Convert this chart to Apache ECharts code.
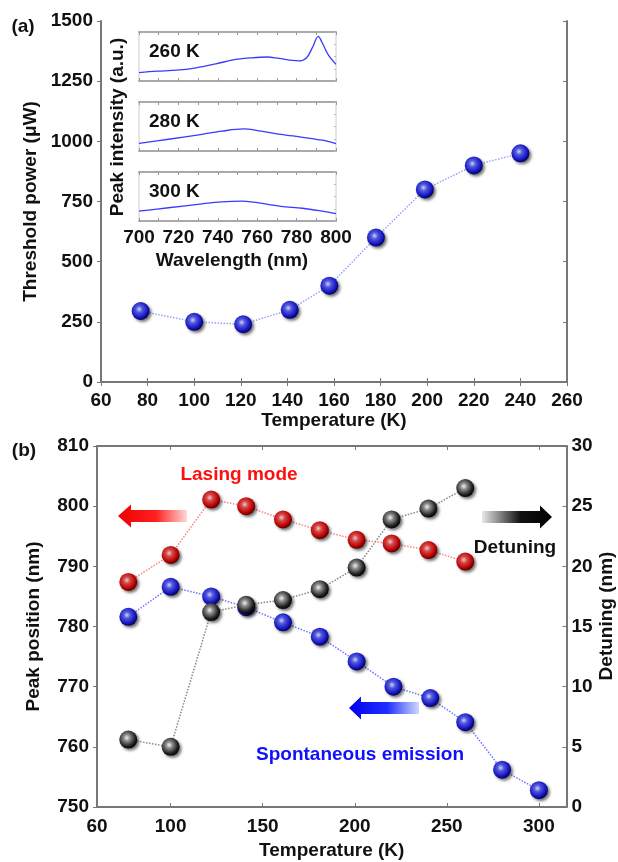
<!DOCTYPE html>
<html>
<head>
<meta charset="utf-8">
<script src="https://cdn.jsdelivr.net/npm/echarts@6/dist/echarts.min.js"></script>
<style>html,body{margin:0;padding:0;background:#fff}#c{width:618px;height:862px}</style>
</head>
<body>
<div id="c"></div>
<script>
// ---- Panel (a) data ----
const tempA = [77, 100, 121, 141, 158, 178, 199, 220, 240];
const powerA = [295, 250, 240, 300, 400, 600, 800, 900, 950];
const ticksA_x = [60, 80, 100, 120, 140, 160, 180, 200, 220, 240, 260];

// ---- Inset spectra (normalised intensity) ----
const wl260 = [700, 709, 719, 729, 739, 749, 756, 765, 771, 778, 781, 785, 788, 791, 793, 796, 800];
const int260 = [0.17, 0.20, 0.22, 0.27, 0.35, 0.44, 0.47, 0.49, 0.46, 0.42, 0.41, 0.47, 0.68, 0.91, 0.78, 0.54, 0.34];
const wl280 = [700, 715, 732, 742, 753, 762, 772, 783, 793, 800];
const int280 = [0.155, 0.24, 0.34, 0.405, 0.45, 0.405, 0.34, 0.28, 0.22, 0.15];
const wl300 = [700, 715, 732, 742, 752, 758, 772, 783, 793, 800];
const int300 = [0.20, 0.27, 0.35, 0.39, 0.405, 0.385, 0.30, 0.26, 0.20, 0.15];
const insetLabels = ['260 K', '280 K', '300 K'];
const insetTicks = [700, 720, 740, 760, 780, 800];

// ---- Panel (b) data ----
const tempLasing = [77, 100, 122, 141, 161, 181, 201, 220, 240, 260];
const lasingMode = [787.4, 791.9, 801.1, 800.0, 797.8, 796.0, 794.4, 793.8, 792.7, 790.8];
const detuning = [5.6, 5.0, 16.2, 16.8, 17.2, 18.1, 19.9, 23.9, 24.8, 26.5];
const tempSpont = [77, 100, 122, 141, 161, 181, 201, 221, 241, 260, 280, 300];
const spontEmission = [781.6, 786.6, 785.0, 783.2, 780.7, 778.3, 774.2, 770.0, 768.1, 764.1, 756.2, 752.8];
const ticksB_x = [60, 100, 150, 200, 250, 300];

const FONT = '"Liberation Sans", Arial, sans-serif';
const zip = (a, b) => a.map((v, i) => [v, b[i]]);
const plain = v => String(v);

function ball(c0, c1, c2, c3) {
  return {
    type: 'radial', x: 0.42, y: 0.4, r: 0.62,
    colorStops: [
      { offset: 0, color: c0 }, { offset: 0.3, color: c1 },
      { offset: 0.75, color: c2 }, { offset: 1, color: c3 }
    ]
  };
}
const blueBall = ball('#d0d0ee', '#5058dd', '#1414c0', '#00004a');
const redBall = ball('#eec8c8', '#d24848', '#bb0000', '#4a0000');
const blackBall = ball('#f2f2f2', '#8a8a8a', '#222222', '#000000');
const ballShadow = { shadowColor: 'rgba(0,0,0,0.55)', shadowBlur: 3, shadowOffsetX: 2, shadowOffsetY: 2 };

const axisLineGrey = { show: true, lineStyle: { color: '#777', width: 2 } };
const lab = { color: '#111', fontSize: 19, fontWeight: 'bold', fontFamily: FONT, formatter: plain };
const nameStyle = { color: '#111', fontSize: 19, fontWeight: 'bold', fontFamily: FONT };

const insetTops = [32, 102, 172];
const insetH = 49;

const grids = [
  { left: 101, top: 21, right: 51, bottom: 480, outerBoundsMode: 'none', containLabel: false },
  { left: 97, top: 446, right: 51.5, bottom: 55, outerBoundsMode: 'none', containLabel: false }
];
insetTops.forEach(t => grids.push({ left: 139, top: t, width: 197, height: insetH, show: true, borderColor: '#ccc', borderWidth: 1, backgroundColor: '#fff', outerBoundsMode: 'none', containLabel: false }));

const xAxes = [
  { gridIndex: 0, type: 'value', min: 60, max: 260, interval: 20, position: 'bottom',
    axisLine: axisLineGrey, axisTick: { inside: true, length: 4, lineStyle: { color: '#777' } },
    axisLabel: Object.assign({ margin: 9 }, lab), splitLine: { show: false },
    name: 'Temperature (K)', nameLocation: 'middle', nameGap: 27, nameTextStyle: nameStyle },
  { gridIndex: 0, type: 'value', min: 60, max: 260, interval: 20, position: 'top',
    axisLine: axisLineGrey, axisTick: { inside: true, length: 4, lineStyle: { color: '#777' } },
    axisLabel: { show: false }, splitLine: { show: false } },
  { gridIndex: 1, type: 'value', min: 60, max: 315, position: 'bottom',
    axisLine: axisLineGrey,
    axisTick: { inside: true, length: 4, lineStyle: { color: '#777' }, customValues: ticksB_x.slice(1) },
    axisLabel: Object.assign({ margin: 10, customValues: ticksB_x }, lab), splitLine: { show: false },
    name: 'Temperature (K)', nameLocation: 'middle', nameGap: 34, nameTextStyle: nameStyle },
  { gridIndex: 1, type: 'value', min: 60, max: 315, position: 'top',
    axisLine: axisLineGrey,
    axisTick: { inside: true, length: 4, lineStyle: { color: '#777' }, customValues: ticksB_x.slice(1) },
    axisLabel: { show: false }, splitLine: { show: false } }
];
const yAxes = [
  { gridIndex: 0, type: 'value', min: 0, max: 1500, interval: 250, position: 'left',
    axisLine: axisLineGrey, axisTick: { show: true, length: 4, lineStyle: { color: '#777' } },
    axisLabel: Object.assign({ margin: 8 }, lab), splitLine: { show: false },
    name: 'Threshold power (\u03bcW)', nameLocation: 'middle', nameGap: 57, nameRotate: 90, nameTextStyle: nameStyle },
  { gridIndex: 0, type: 'value', min: 0, max: 1500, interval: 250, position: 'right',
    axisLine: axisLineGrey, axisTick: { inside: true, length: 4, lineStyle: { color: '#777' } },
    axisLabel: { show: false }, splitLine: { show: false } },
  { gridIndex: 1, type: 'value', min: 750, max: 810, interval: 10, position: 'left',
    axisLine: axisLineGrey, axisTick: { show: true, length: 4, lineStyle: { color: '#777' } },
    axisLabel: Object.assign({ margin: 8 }, lab), splitLine: { show: false },
    name: 'Peak position (nm)', nameLocation: 'middle', nameGap: 54, nameRotate: 90, nameTextStyle: nameStyle },
  { gridIndex: 1, type: 'value', min: 0, max: 30, interval: 5, position: 'right',
    axisLine: axisLineGrey, axisTick: { inside: true, length: 4, lineStyle: { color: '#777' } },
    axisLabel: Object.assign({ margin: 5 }, lab), splitLine: { show: false } }
];

// inset axes
[0, 1, 2].forEach(i => {
  const g = 2 + i;
  xAxes.push({ gridIndex: g, type: 'value', min: 700, max: 800, interval: 10, position: 'bottom',
    axisLine: { show: true, lineStyle: { color: '#aaa', width: 2 } },
    axisTick: { inside: true, length: 3, lineStyle: { color: '#999' } },
    axisLabel: i === 2 ? Object.assign({ margin: 7, customValues: insetTicks }, lab) : { show: false },
    splitLine: { show: false } });
  xAxes.push({ gridIndex: g, type: 'value', min: 700, max: 800, interval: 10, position: 'top',
    axisLine: { show: true, lineStyle: { color: '#aaa', width: 2 } },
    axisTick: { inside: true, length: 3, lineStyle: { color: '#999' } },
    axisLabel: { show: false }, splitLine: { show: false } });
  yAxes.push({ gridIndex: g, type: 'value', min: 0, max: 1, interval: 0.25, position: 'right',
    axisLine: { show: false }, axisTick: { inside: true, length: 2, lineStyle: { color: '#bbb' } },
    axisLabel: { show: false }, splitLine: { show: false } });
});

const dotted = (color) => ({ color: color, width: 1.5, type: 'dotted' });

const series = [
  { type: 'line', xAxisIndex: 0, yAxisIndex: 0, data: zip(tempA, powerA),
    symbol: 'circle', symbolSize: 18, lineStyle: dotted('#9aa0ff'),
    itemStyle: Object.assign({ color: blueBall }, ballShadow), z: 3 },
  { type: 'line', xAxisIndex: 2, yAxisIndex: 2, data: zip(tempSpont, spontEmission),
    symbol: 'circle', symbolSize: 18, lineStyle: dotted('#7070ff'),
    itemStyle: Object.assign({ color: blueBall }, ballShadow), z: 3 },
  { type: 'line', xAxisIndex: 2, yAxisIndex: 2, data: zip(tempLasing, lasingMode),
    symbol: 'circle', symbolSize: 18, lineStyle: dotted('#ff8080'),
    itemStyle: Object.assign({ color: redBall }, ballShadow), z: 4 },
  { type: 'line', xAxisIndex: 2, yAxisIndex: 3, data: zip(tempLasing, detuning),
    symbol: 'circle', symbolSize: 18, lineStyle: dotted('#888'),
    itemStyle: Object.assign({ color: blackBall }, ballShadow), z: 5 }
];
const spectra = [zip(wl260, int260), zip(wl280, int280), zip(wl300, int300)];
spectra.forEach((d, i) => {
  series.push({ type: 'line', xAxisIndex: 4 + 2 * i, yAxisIndex: 4 + i, data: d,
    showSymbol: false, smooth: 0.35, lineStyle: { color: '#3a3aff', width: 1.3 }, z: 6 });
});

function txt(text, x, y, opts) {
  return Object.assign({
    type: 'text', x: x, y: y, z: 100,
    style: Object.assign({ text: text, fill: '#111', font: 'bold 19px ' + FONT, align: 'center', verticalAlign: 'middle' }, (opts && opts.style) || {})
  }, (opts && opts.el) || {});
}
function arrow(tip, base, tail, cy, hh, bh, stops) {
  const dir = Math.sign(tail - tip);
  const pts = [[tip, cy], [base, cy - hh], [base, cy - bh], [tail, cy - bh], [tail, cy + bh], [base, cy + bh], [base, cy + hh]];
  return { type: 'polygon', z: 90, shape: { points: pts },
    style: { fill: new echarts.graphic.LinearGradient(dir > 0 ? 0 : 1, 0, dir > 0 ? 1 : 0, 0, stops) } };
}

const graphics = [
  txt('(a)', 23, 27),
  txt('(b)', 24, 451),
  txt('Peak intensity (a.u.)', 118, 127, { el: { rotation: Math.PI / 2 } }),
  txt('Wavelength (nm)', 232, 261),
  txt('Detuning (nm)', 607, 616, { el: { rotation: Math.PI / 2 } }),
  txt(insetLabels[0], 149, 52, { style: { align: 'left' } }),
  txt(insetLabels[1], 149, 122, { style: { align: 'left' } }),
  txt(insetLabels[2], 149, 192, { style: { align: 'left' } }),
  txt('Lasing mode', 239, 475, { style: { fill: '#ff1010' } }),
  txt('Detuning', 515, 548),
  txt('Spontaneous emission', 360, 755, { style: { fill: '#1010ff' } }),
  arrow(118, 131, 187, 516, 11.5, 6, [{ offset: 0, color: '#ee0000' }, { offset: 0.55, color: '#ff2020' }, { offset: 1, color: '#ffd8d8' }]),
  arrow(552, 540, 482, 517, 11.5, 6, [{ offset: 0, color: '#000000' }, { offset: 0.45, color: '#111111' }, { offset: 1, color: '#e8e8e8' }]),
  arrow(349, 361, 419, 708, 11.5, 6, [{ offset: 0, color: '#0000ee' }, { offset: 0.55, color: '#2030ff' }, { offset: 1, color: '#d0d8ff' }])
];

const chart = echarts.init(document.getElementById('c'), null, { renderer: 'canvas' });
chart.setOption({
  animation: false,
  backgroundColor: '#fff',
  textStyle: { fontFamily: FONT },
  grid: grids,
  xAxis: xAxes,
  yAxis: yAxes,
  series: series,
  graphic: graphics
});
</script>
</body>
</html>
